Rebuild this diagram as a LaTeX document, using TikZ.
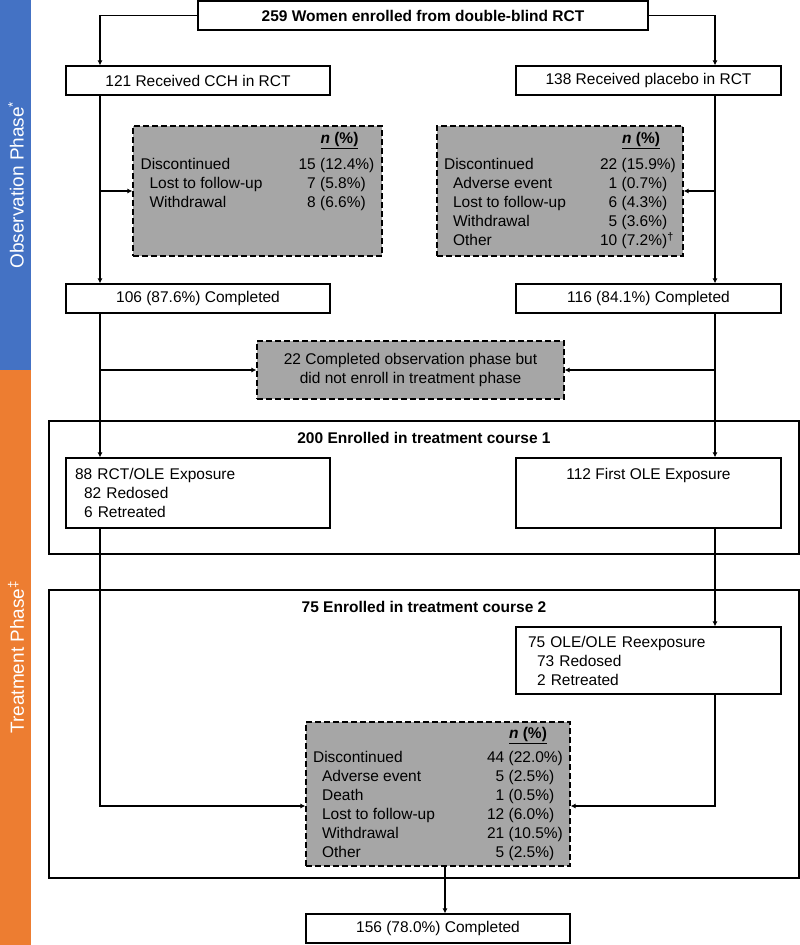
\documentclass[tikz,border=0pt]{standalone}
\usepackage{fontspec}
\setmainfont{Liberation Sans}
\usetikzlibrary{arrows.meta}
\definecolor{phaseblue}{RGB}{68,114,196}
\definecolor{phaseorange}{RGB}{237,125,49}
\definecolor{boxgray}{RGB}{166,166,166}
\newcommand{\ind}{\hspace*{9pt}}
\newcommand{\npct}{\textbf{\underline{\textit{n} (\%)}}}

\begin{document}
\begin{tikzpicture}[x=1pt, y=-1pt, line width=1.2pt,
    every node/.style={font=\fontsize{15.5}{19}\selectfont},
    title/.style={font=\fontsize{15.5}{19}\selectfont\bfseries},
    whitebox/.style={draw, fill=white, inner sep=0pt},
    greybox/.style={draw, fill=boxgray, dash pattern=on 6pt off 3pt, inner sep=0pt},
    course/.style={draw, inner sep=0pt},
    phase/.style={rotate=90, text=white, font=\fontsize{19}{22}\selectfont},
    flow/.style={-{Latex[length=5pt, width=5pt]}}]
    \pgfmathsetmacro{\xL}{100}  % units of pixels
    \pgfmathsetmacro{\xR}{715}  % units of pixels
    \useasboundingbox (0,0) rectangle (800,945);
    \coordinate (colL) at (\xL,0);
    \coordinate (colR) at (\xR,0);
    % phase bars
    \fill[phaseblue] (0,0) rectangle (31,370);
    \fill[phaseorange] (0,370) rectangle (31,945);
    \node[phase] (obsphase) at (16,185) {Observation Phase\textsuperscript{*}};
    \node[phase] (trtphase) at (16,657) {Treatment Phase\textsuperscript{\ddag}};
    % observation phase
    \node[whitebox, title, minimum width=450pt, minimum height=29pt] (enrolled) at (423,15.5)
        {259 Women enrolled from double-blind RCT};
    \node[whitebox, minimum width=264pt, minimum height=29pt] (cch) at (198,80.5) {121 Received CCH in RCT};
    \node[whitebox, minimum width=265pt, minimum height=29pt] (plc) at (648.5,80.5) {138 Received placebo in RCT};
    \node[greybox, minimum width=249pt, minimum height=130pt] (discL) at (257.5,191) {%
        \begin{tabular}{@{}p{158pt}@{}r@{\ }l@{}}
            & \multicolumn{2}{c@{}}{\npct}\\[7pt]
            Discontinued & 15 & (12.4\%)\\
            \ind Lost to follow-up & 7 & (5.8\%)\\
            \ind Withdrawal & 8 & (6.6\%)\\
            & & \\
            & & \\
        \end{tabular}};
    \node[greybox, minimum width=246pt, minimum height=130pt] (discR) at (560,191) {%
        \begin{tabular}{@{}p{156pt}@{}r@{\ }l@{}}
            & \multicolumn{2}{c@{}}{\npct}\\[7pt]
            Discontinued & 22 & (15.9\%)\\
            \ind Adverse event & 1 & (0.7\%)\\
            \ind Lost to follow-up & 6 & (4.3\%)\\
            \ind Withdrawal & 5 & (3.6\%)\\
            \ind Other & 10 & (7.2\%)\textsuperscript{\dag}\\
        \end{tabular}};
    \node[whitebox, minimum width=264pt, minimum height=29pt] (compL) at (198,298.5) {106 (87.6\%) Completed};
    \node[whitebox, minimum width=265pt, minimum height=29pt] (compR) at (648.5,298.5) {116 (84.1\%) Completed};
    \node[greybox, align=center, minimum width=307pt, minimum height=58pt] (noenr) at (410.5,370)
        {22 Completed observation phase but\\did not enroll in treatment phase};
    % treatment course 1
    \node[course, minimum width=750pt, minimum height=133pt] (course1) at (424,487.5) {};
    \node[title] (course1title) at ([yshift=-18pt]course1.north) {200 Enrolled in treatment course 1};
    \node[whitebox, align=left, text width=246pt, minimum width=264pt, minimum height=70pt] (exp1) at (198,493)
        {88 RCT/OLE Exposure\\\ind 82 Redosed\\\ind 6 Retreated};
    \node[whitebox, align=center, minimum width=265pt, minimum height=70pt] (first) at (648.5,493)
        {112 First OLE Exposure\\~\\~};
    % treatment course 2
    \node[course, minimum width=750pt, minimum height=288pt] (course2) at (424,734) {};
    \node[title] (course2title) at ([yshift=-18pt]course2.north) {75 Enrolled in treatment course 2};
    \node[whitebox, align=left, text width=241pt, minimum width=265pt, minimum height=67pt] (reexp) at (648.5,660.5)
        {75 OLE/OLE Reexposure\\\ind 73 Redosed\\\ind 2 Retreated};
    \node[greybox, minimum width=264pt, minimum height=144pt] (discT) at (438,794) {%
        \begin{tabular}{@{}p{174pt}@{}r@{\ }l@{}}
            & \multicolumn{2}{c@{}}{\npct}\\[5pt]
            Discontinued & 44 & (22.0\%)\\
            \ind Adverse event & 5 & (2.5\%)\\
            \ind Death & 1 & (0.5\%)\\
            \ind Lost to follow-up & 12 & (6.0\%)\\
            \ind Withdrawal & 21 & (10.5\%)\\
            \ind Other & 5 & (2.5\%)\\
        \end{tabular}};
    \node[whitebox, minimum width=264pt, minimum height=29pt] (final) at (438,928.5) {156 (78.0\%) Completed};
    % connectors
    \draw[flow] (enrolled.west) -| (cch.north -| colL);
    \draw[flow] (enrolled.east) -| (plc.north -| colR);
    \draw[flow] (cch.south -| colL) -- (compL.north -| colL);
    \draw[flow] (discL.west -| colL) -- (discL.west);
    \draw[flow] (plc.south -| colR) -- (compR.north -| colR);
    \draw[flow] (discR.east -| colR) -- (discR.east);
    \draw[flow] (compL.south -| colL) -- (exp1.north -| colL);
    \draw[flow] (noenr.west -| colL) -- (noenr.west);
    \draw[flow] (compR.south -| colR) -- (first.north -| colR);
    \draw[flow] (noenr.east -| colR) -- (noenr.east);
    \draw[flow] (first.south -| colR) -- (reexp.north -| colR);
    \draw[flow] (exp1.south -| colL) |- ([yshift=-12pt]discT.west);
    \draw[flow] (reexp.south -| colR) |- ([yshift=-12pt]discT.east);
    \draw[flow] ([xshift=7pt]discT.south) -- ([xshift=7pt]final.north);
\end{tikzpicture}
\end{document}
